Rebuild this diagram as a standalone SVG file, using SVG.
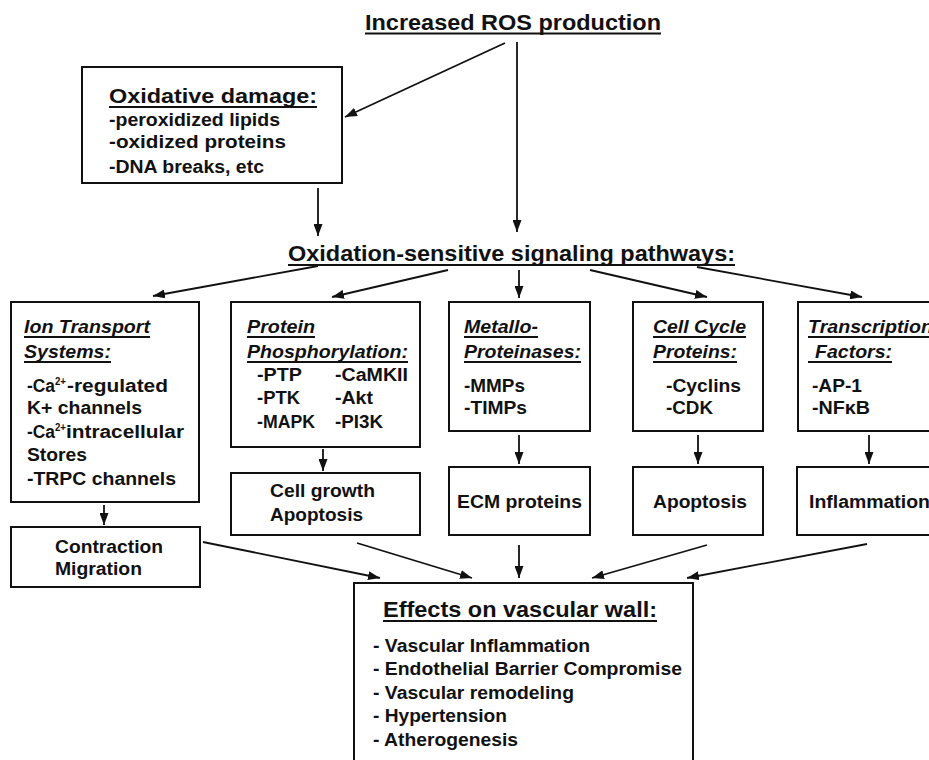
<svg xmlns="http://www.w3.org/2000/svg" width="929" height="760" viewBox="0 0 929 760">
<style>
text{font-family:"Liberation Sans",Arial,Helvetica,sans-serif;font-weight:bold;fill:#111}
.h{font-size:22px}
.m{font-size:20px}
.s{font-size:18px}
.i{font-style:italic;font-size:18px}
.sup{font-size:11px}
.box{fill:#fff;stroke:#111;stroke-width:2}
.ul{stroke:#111;stroke-width:1.8}
.c line{stroke:#111;stroke-width:1.8;marker-end:url(#ah)}
</style>
<defs>
<marker id="ah" markerUnits="userSpaceOnUse" markerWidth="12" markerHeight="9" refX="12" refY="4.5" orient="auto">
<path d="M0,0 L12,4.5 L0,9 z" fill="#111"/>
</marker>
</defs>
<rect width="929" height="760" fill="#fff"/>

<g id="ros">
<text class="h" x="365" y="30" textLength="296" lengthAdjust="spacingAndGlyphs">Increased ROS production</text>
<line class="ul" x1="365" y1="33.5" x2="661" y2="33.5"/>
</g>

<g id="oxdamage">
<rect class="box" x="82" y="67" width="260" height="116"/>
<text class="m" x="109" y="103" textLength="208" lengthAdjust="spacingAndGlyphs">Oxidative damage:</text>
<line class="ul" x1="109" y1="107" x2="317" y2="107"/>
<text class="s" x="109" y="126" textLength="171" lengthAdjust="spacingAndGlyphs">-peroxidized lipids</text>
<text class="s" x="109" y="148" textLength="177" lengthAdjust="spacingAndGlyphs">-oxidized proteins</text>
<text class="s" x="109" y="173" textLength="155" lengthAdjust="spacingAndGlyphs">-DNA breaks, etc</text>
</g>

<g id="signaling">
<text class="h" x="288" y="261" textLength="447" lengthAdjust="spacingAndGlyphs">Oxidation-sensitive signaling pathways:</text>
<line class="ul" x1="288" y1="265" x2="735" y2="265"/>
</g>

<g id="ion">
<rect class="box" x="11" y="302" width="188" height="200"/>
<text class="i" x="24" y="333" textLength="126" lengthAdjust="spacingAndGlyphs">Ion Transport</text>
<line class="ul" x1="24" y1="337" x2="150" y2="337"/>
<text class="i" x="24" y="358" textLength="87" lengthAdjust="spacingAndGlyphs">Systems:</text>
<line class="ul" x1="24" y1="362" x2="111" y2="362"/>
<text class="s" x="27" y="392" textLength="28" lengthAdjust="spacingAndGlyphs">-Ca</text>
<text class="sup" x="55" y="385" textLength="11" lengthAdjust="spacingAndGlyphs">2+</text>
<text class="s" x="67" y="392" textLength="101" lengthAdjust="spacingAndGlyphs">-regulated</text>
<text class="s" x="27" y="414" textLength="115" lengthAdjust="spacingAndGlyphs">K+ channels</text>
<text class="s" x="27" y="438" textLength="28" lengthAdjust="spacingAndGlyphs">-Ca</text>
<text class="sup" x="55" y="431" textLength="11" lengthAdjust="spacingAndGlyphs">2+</text>
<text class="s" x="66" y="438" textLength="118" lengthAdjust="spacingAndGlyphs">intracellular</text>
<text class="s" x="27" y="461" textLength="60" lengthAdjust="spacingAndGlyphs">Stores</text>
<text class="s" x="27" y="485" textLength="149" lengthAdjust="spacingAndGlyphs">-TRPC channels</text>
</g>

<g id="protein">
<rect class="box" x="231" y="302" width="189" height="145"/>
<text class="i" x="247" y="333" textLength="68" lengthAdjust="spacingAndGlyphs">Protein</text>
<line class="ul" x1="247" y1="337" x2="315" y2="337"/>
<text class="i" x="247" y="358" textLength="161" lengthAdjust="spacingAndGlyphs">Phosphorylation:</text>
<line class="ul" x1="247" y1="362" x2="408" y2="362"/>
<text class="s" x="257" y="381" textLength="45" lengthAdjust="spacingAndGlyphs">-PTP</text>
<text class="s" x="335" y="381" textLength="73" lengthAdjust="spacingAndGlyphs">-CaMKII</text>
<text class="s" x="257" y="404" textLength="43" lengthAdjust="spacingAndGlyphs">-PTK</text>
<text class="s" x="335" y="404" textLength="38" lengthAdjust="spacingAndGlyphs">-Akt</text>
<text class="s" x="257" y="428" textLength="58" lengthAdjust="spacingAndGlyphs">-MAPK</text>
<text class="s" x="335" y="428" textLength="48" lengthAdjust="spacingAndGlyphs">-PI3K</text>
</g>

<g id="metallo">
<rect class="box" x="449" y="302" width="141" height="129"/>
<text class="i" x="464" y="333" textLength="74" lengthAdjust="spacingAndGlyphs">Metallo-</text>
<line class="ul" x1="464" y1="337" x2="538" y2="337"/>
<text class="i" x="464" y="358" textLength="117" lengthAdjust="spacingAndGlyphs">Proteinases:</text>
<line class="ul" x1="464" y1="362" x2="581" y2="362"/>
<text class="s" x="464" y="392" textLength="61" lengthAdjust="spacingAndGlyphs">-MMPs</text>
<text class="s" x="464" y="414" textLength="63" lengthAdjust="spacingAndGlyphs">-TIMPs</text>
</g>

<g id="cellcycle">
<rect class="box" x="633" y="302" width="130" height="129"/>
<text class="i" x="653" y="333" textLength="93" lengthAdjust="spacingAndGlyphs">Cell Cycle</text>
<line class="ul" x1="653" y1="337" x2="746" y2="337"/>
<text class="i" x="653" y="358" textLength="84" lengthAdjust="spacingAndGlyphs">Proteins:</text>
<line class="ul" x1="653" y1="362" x2="737" y2="362"/>
<text class="s" x="666" y="392" textLength="75" lengthAdjust="spacingAndGlyphs">-Cyclins</text>
<text class="s" x="666" y="414" textLength="47" lengthAdjust="spacingAndGlyphs">-CDK</text>
</g>

<g id="transcription">
<rect class="box" x="798" y="302" width="150" height="129"/>
<text class="i" x="808" y="333" textLength="125" lengthAdjust="spacingAndGlyphs">Transcription</text>
<line class="ul" x1="808" y1="337" x2="933" y2="337"/>
<text class="i" x="815" y="358" textLength="77" lengthAdjust="spacingAndGlyphs">Factors:</text>
<line class="ul" x1="808" y1="362" x2="892" y2="362"/>
<text class="s" x="812" y="392" textLength="50" lengthAdjust="spacingAndGlyphs">-AP-1</text>
<text class="s" x="812" y="414" textLength="58" lengthAdjust="spacingAndGlyphs">-NFκB</text>
</g>

<g id="contraction">
<rect class="box" x="11" y="527" width="189" height="60"/>
<text class="s" x="55" y="553" textLength="108" lengthAdjust="spacingAndGlyphs">Contraction</text>
<text class="s" x="55" y="575" textLength="87" lengthAdjust="spacingAndGlyphs">Migration</text>
</g>

<g id="cellgrowth">
<rect class="box" x="231" y="473" width="189" height="62"/>
<text class="s" x="270" y="497" textLength="105" lengthAdjust="spacingAndGlyphs">Cell growth</text>
<text class="s" x="270" y="521" textLength="93" lengthAdjust="spacingAndGlyphs">Apoptosis</text>
</g>

<g id="ecm">
<rect class="box" x="449" y="467" width="141" height="68"/>
<text class="s" x="457" y="508" textLength="125" lengthAdjust="spacingAndGlyphs">ECM proteins</text>
</g>

<g id="apoptosis">
<rect class="box" x="633" y="467" width="130" height="68"/>
<text class="s" x="653" y="508" textLength="94" lengthAdjust="spacingAndGlyphs">Apoptosis</text>
</g>

<g id="inflammation">
<rect class="box" x="797" y="467" width="150" height="68"/>
<text class="s" x="809" y="508" textLength="121" lengthAdjust="spacingAndGlyphs">Inflammation</text>
</g>

<g id="effects">
<rect class="box" x="354" y="583" width="339" height="190"/>
<text class="h" x="383" y="617" textLength="274" lengthAdjust="spacingAndGlyphs">Effects on vascular wall:</text>
<line class="ul" x1="383" y1="621" x2="657" y2="621"/>
<text class="s" x="373" y="652" textLength="217" lengthAdjust="spacingAndGlyphs">- Vascular Inflammation</text>
<text class="s" x="373" y="675" textLength="309" lengthAdjust="spacingAndGlyphs">- Endothelial Barrier Compromise</text>
<text class="s" x="373" y="699" textLength="201" lengthAdjust="spacingAndGlyphs">- Vascular remodeling</text>
<text class="s" x="373" y="722" textLength="134" lengthAdjust="spacingAndGlyphs">- Hypertension</text>
<text class="s" x="373" y="746" textLength="145" lengthAdjust="spacingAndGlyphs">- Atherogenesis</text>
</g>

<g id="connectors" class="c">
<line x1="505" y1="43" x2="345" y2="117"/>
<line x1="517" y1="42" x2="517" y2="232"/>
<line x1="318" y1="188" x2="318" y2="236"/>
<line x1="318" y1="266" x2="153" y2="296"/>
<line x1="448" y1="270" x2="332" y2="297"/>
<line x1="519" y1="270" x2="519" y2="298"/>
<line x1="590" y1="270" x2="707" y2="297"/>
<line x1="697" y1="267" x2="862" y2="297"/>
<line x1="104" y1="505" x2="104" y2="525"/>
<line x1="323" y1="449" x2="323" y2="471"/>
<line x1="519" y1="435" x2="519" y2="464"/>
<line x1="698" y1="435" x2="698" y2="464"/>
<line x1="869" y1="435" x2="869" y2="464"/>
<line x1="203" y1="542" x2="380" y2="578"/>
<line x1="357" y1="543" x2="472" y2="578"/>
<line x1="519" y1="545" x2="519" y2="578"/>
<line x1="707" y1="545" x2="592" y2="578"/>
<line x1="867" y1="544" x2="687" y2="578"/>
</g>
</svg>
